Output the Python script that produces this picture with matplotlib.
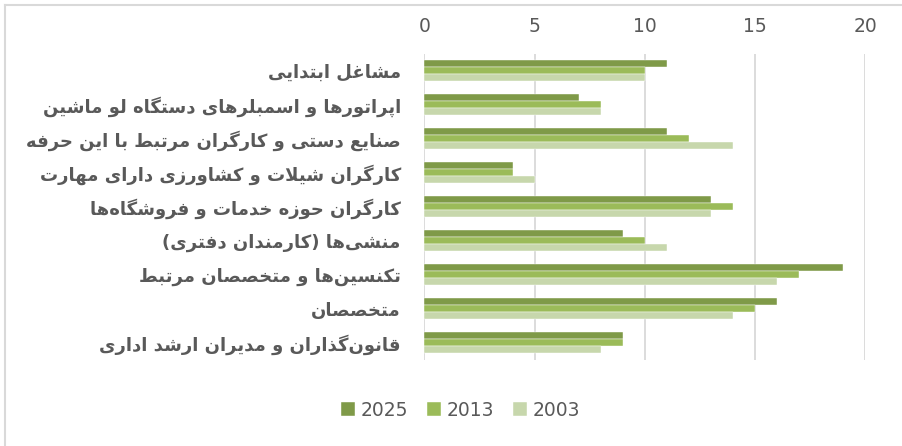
import numpy as np
import matplotlib
matplotlib.use("Agg")
import matplotlib.pyplot as plt
from matplotlib.lines import Line2D

# داده‌ها (از بالا به پایین)
categories = [
    "مشاغل ابتدایی",
    "اپراتورها و اسمبلرهای دستگاه لو ماشین",
    "صنایع دستی و کارگران مرتبط با این حرفه",
    "کارگران شیلات و کشاورزی دارای مهارت",
    "کارگران حوزه خدمات و فروشگاه\u200cها",
    "منشی\u200cها (کارمندان دفتری)",
    "تکنسین\u200cها و متخصصان مرتبط",
    "متخصصان",
    "قانون\u200cگذاران و مدیران ارشد اداری",
]
series_names = ["2025", "2013", "2003"]
v2025 = [11, 7, 11, 4, 13, 9, 19, 16, 9]
v2013 = [10, 8, 12, 4, 14, 10, 17, 15, 9]
v2003 = [10, 8, 14, 5, 13, 11, 16, 14, 8]
xticks = [0, 5, 10, 15, 20]

colors = ["#7F9A48", "#9BBB59", "#C7D7AC"]
text_col = "#595959"
grid_col = "#D9D9D9"

# شکل‌دهی ساده حروف فارسی (matplotlib اتصال حروف را انجام نمی‌دهد)
# (isolated, final, initial, medial) ; two entries = joins only to the right
FORMS = {
    "ا": (0xFE8D, 0xFE8E), "ب": (0xFE8F, 0xFE90, 0xFE91, 0xFE92),
    "ت": (0xFE95, 0xFE96, 0xFE97, 0xFE98), "ث": (0xFE99, 0xFE9A, 0xFE9B, 0xFE9C),
    "ج": (0xFE9D, 0xFE9E, 0xFE9F, 0xFEA0), "ح": (0xFEA1, 0xFEA2, 0xFEA3, 0xFEA4),
    "خ": (0xFEA5, 0xFEA6, 0xFEA7, 0xFEA8), "د": (0xFEA9, 0xFEAA),
    "ذ": (0xFEAB, 0xFEAC), "ر": (0xFEAD, 0xFEAE), "ز": (0xFEAF, 0xFEB0),
    "س": (0xFEB1, 0xFEB2, 0xFEB3, 0xFEB4), "ش": (0xFEB5, 0xFEB6, 0xFEB7, 0xFEB8),
    "ص": (0xFEB9, 0xFEBA, 0xFEBB, 0xFEBC), "ض": (0xFEBD, 0xFEBE, 0xFEBF, 0xFEC0),
    "ط": (0xFEC1, 0xFEC2, 0xFEC3, 0xFEC4), "ظ": (0xFEC5, 0xFEC6, 0xFEC7, 0xFEC8),
    "ع": (0xFEC9, 0xFECA, 0xFECB, 0xFECC), "غ": (0xFECD, 0xFECE, 0xFECF, 0xFED0),
    "ف": (0xFED1, 0xFED2, 0xFED3, 0xFED4), "ق": (0xFED5, 0xFED6, 0xFED7, 0xFED8),
    "ل": (0xFEDD, 0xFEDE, 0xFEDF, 0xFEE0), "م": (0xFEE1, 0xFEE2, 0xFEE3, 0xFEE4),
    "ن": (0xFEE5, 0xFEE6, 0xFEE7, 0xFEE8), "ه": (0xFEE9, 0xFEEA, 0xFEEB, 0xFEEC),
    "و": (0xFEED, 0xFEEE), "ي": (0xFEF1, 0xFEF2, 0xFEF3, 0xFEF4),
    "پ": (0xFB56, 0xFB57, 0xFB58, 0xFB59), "چ": (0xFB7A, 0xFB7B, 0xFB7C, 0xFB7D),
    "ژ": (0xFB8A, 0xFB8B), "ک": (0xFB8E, 0xFB8F, 0xFB90, 0xFB91),
    "گ": (0xFB92, 0xFB93, 0xFB94, 0xFB95), "ی": (0xFBFC, 0xFBFD, 0xFBFE, 0xFBFF),
}
MIRROR = {"(": ")", ")": "("}


def shape(s):
    # lam-alef ligature first
    chars = []
    i = 0
    while i < len(s):
        if s[i] == "ل" and i + 1 < len(s) and s[i + 1] == "ا":
            chars.append("LA")
            i += 2
        else:
            chars.append(s[i])
            i += 1

    def joins_left(c):  # can connect to the following letter
        return c in FORMS and len(FORMS[c]) == 4

    def joinable(c):
        return c in FORMS or c == "LA"

    out = []
    for k, c in enumerate(chars):
        prev = chars[k - 1] if k > 0 else None
        nxt = chars[k + 1] if k + 1 < len(chars) else None
        if c == "LA":
            jp = prev is not None and joins_left(prev)
            out.append(chr(0xFEFC if jp else 0xFEFB))
            continue
        if c not in FORMS:
            if c == "\u200c":
                continue
            out.append(MIRROR.get(c, c))
            continue
        f = FORMS[c]
        jp = prev is not None and joins_left(prev)
        jn = len(f) == 4 and nxt is not None and joinable(nxt)
        if jp and jn:
            out.append(chr(f[3]))
        elif jp:
            out.append(chr(f[1]))
        elif jn:
            out.append(chr(f[2]))
        else:
            out.append(chr(f[0]))
    return "".join(reversed(out))


fig = plt.figure(figsize=(9.03, 4.46), dpi=100)
ax = fig.add_axes([0.470, 0.193, 0.488, 0.686])

n = len(categories)
y = np.arange(n)
h = 0.206
for j, (vals, name) in enumerate(zip([v2025, v2013, v2003], series_names)):
    ax.barh(y + (j - 1) * h, vals, height=h, color=colors[j], label=name,
            edgecolor="white", linewidth=0.3, zorder=3)

ax.set_xlim(0, 20)
ax.set_ylim(n - 0.5, -0.5)
ax.set_xticks(xticks)
ax.xaxis.tick_top()
ax.tick_params(axis="x", length=0, pad=13, labelsize=13.5, labelcolor=text_col)
for lab in ax.get_xticklabels():
    lab.set_family("DejaVu Sans")
ax.grid(axis="x", color=grid_col, linewidth=1.3, zorder=0)
for sp in ax.spines.values():
    sp.set_visible(False)

ax.set_yticks(y)
ax.set_yticklabels([shape(c) for c in categories], fontsize=13, fontweight="bold",
                   color=text_col, family="DejaVu Sans")
ax.tick_params(axis="y", length=0, pad=17)

leg = fig.legend(loc="center", bbox_to_anchor=(0.51, 0.08), ncol=3, frameon=False,
                 fontsize=13.5, handlelength=0.75, handleheight=0.75,
                 handletextpad=0.3, columnspacing=1.0)
for t in leg.get_texts():
    t.set_color(text_col)

# chart area border (top and left)
fig.add_artist(Line2D([0.006, 1.0], [0.988, 0.988], color=grid_col, lw=1.5))
fig.add_artist(Line2D([0.006, 0.006], [0.0, 0.988], color=grid_col, lw=1.5))

fig.savefig("out.png", dpi=100)
